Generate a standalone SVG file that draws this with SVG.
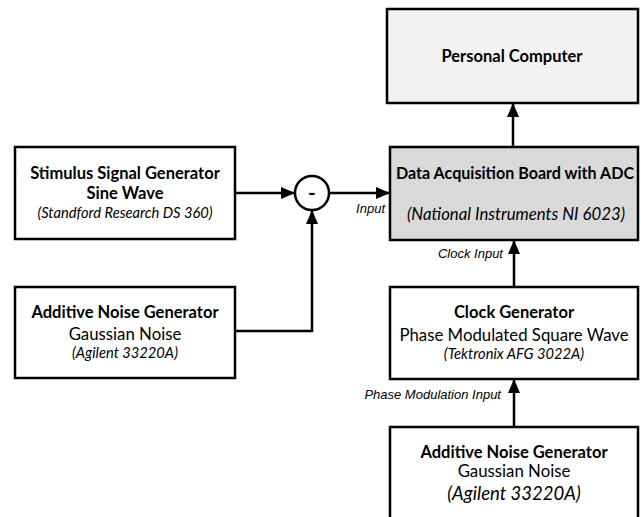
<svg xmlns="http://www.w3.org/2000/svg" width="641" height="517" viewBox="0 0 641 517">
<style>
.box{stroke:#000;stroke-width:2.5;fill:#fff}
.t{font-family:Lato,"Open Sans",sans-serif;fill:#000;text-anchor:middle}
.b{font-weight:bold;font-size:16.5px}
.n{font-size:16.8px}
.i{font-style:italic;font-size:14.7px}
.lbl{font-family:"Liberation Sans",Arial,sans-serif;font-style:italic;font-size:13px;fill:#000;text-anchor:end}
.c{stroke:#000;stroke-width:2.5;fill:none}
</style>
<defs>
<marker id="ah" viewBox="0 0 14 12" refX="14" refY="6" markerWidth="14" markerHeight="12" markerUnits="userSpaceOnUse" orient="auto">
<path d="M0,0 L14,6 L0,12 Z" fill="#000"/>
</marker>
</defs>
<g id="pc">
<rect class="box" x="387" y="9" width="251" height="94" style="fill:#f2f2f2"/>
<text class="t b" x="512" y="62">Personal Computer</text>
</g>
<g id="daq">
<rect class="box" x="390" y="147" width="248" height="93" style="fill:#d9d9d9"/>
<text class="t b" x="515" y="179" style="font-size:16.1px">Data Acquisition Board with ADC</text>
<text class="t i" x="516" y="220" style="font-size:16.8px">(National Instruments NI 6023)</text>
</g>
<g id="stimulus">
<rect class="box" x="15" y="147" width="220" height="92"/>
<text class="t b" x="125" y="179">Stimulus Signal Generator</text>
<text class="t b" x="125" y="199">Sine Wave</text>
<text class="t i" x="125" y="218">(Standford Research DS 360)</text>
</g>
<g id="sum">
<circle cx="312" cy="193" r="17" stroke="#000" stroke-width="2.5" fill="#fff"/>
<text class="t" x="312" y="200" style="font-weight:bold;font-size:21px">-</text>
</g>
<g id="noise1">
<rect class="box" x="15" y="287" width="220" height="91"/>
<text class="t b" x="125" y="318">Additive Noise Generator</text>
<text class="t n" x="125" y="340">Gaussian Noise</text>
<text class="t i" x="125" y="358">(Agilent 33220A)</text>
</g>
<g id="clock">
<rect class="box" x="390" y="287" width="248" height="92"/>
<text class="t b" x="514" y="318">Clock Generator</text>
<text class="t n" x="514" y="341">Phase Modulated Square Wave</text>
<text class="t i" x="514" y="359">(Tektronix AFG 3022A)</text>
</g>
<g id="noise2">
<rect class="box" x="390" y="427" width="248" height="100"/>
<text class="t b" x="514" y="458">Additive Noise Generator</text>
<text class="t n" x="514" y="477">Gaussian Noise</text>
<text class="t i" x="514" y="500" style="font-size:18.5px">(Agilent 33220A)</text>
</g>
<g id="connectors">
<path class="c" d="M235,193 H295" marker-end="url(#ah)"/>
<path class="c" d="M329,193 H390" marker-end="url(#ah)"/>
<path class="c" d="M235,331 H312 V210" marker-end="url(#ah)"/>
<path class="c" d="M513,147 V103" marker-end="url(#ah)"/>
<path class="c" d="M514,287 V240" marker-end="url(#ah)"/>
<path class="c" d="M514,427 V379" marker-end="url(#ah)"/>
<text class="lbl" x="385" y="213">Input</text>
<text class="lbl" x="503" y="258">Clock Input</text>
<text class="lbl" x="501" y="399">Phase Modulation Input</text>
</g>
</svg>
